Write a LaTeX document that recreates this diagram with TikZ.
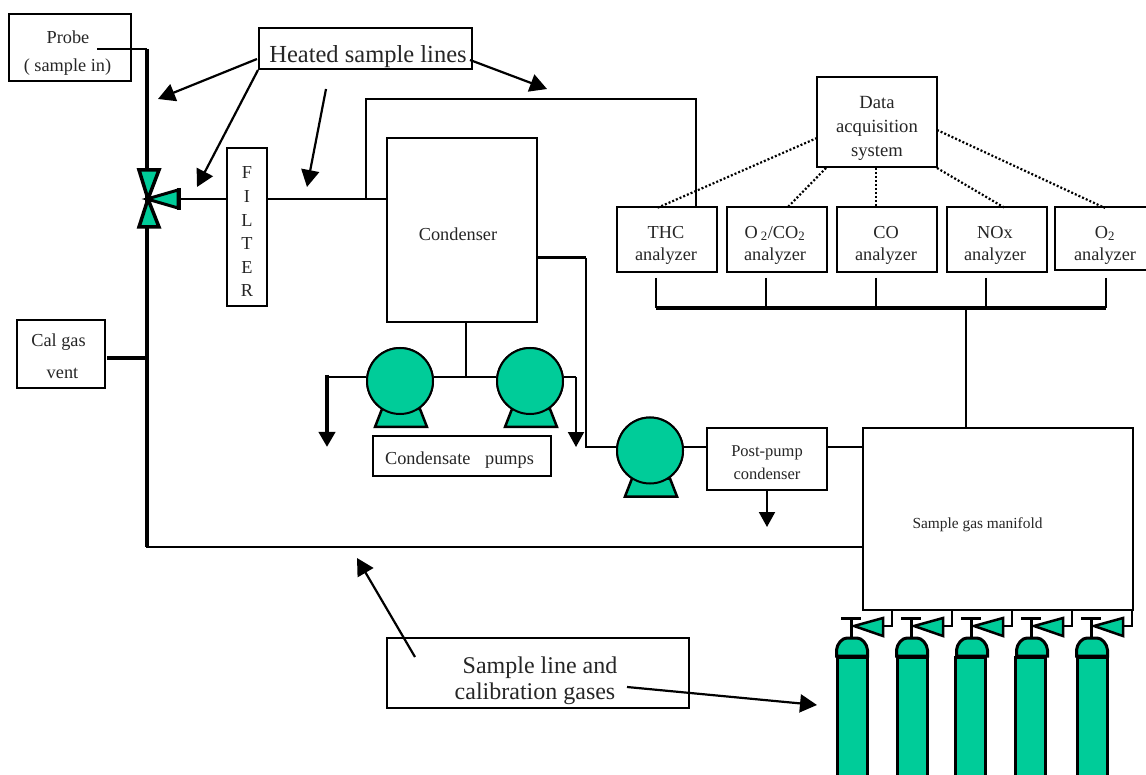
\documentclass[tikz,border=0pt]{standalone}
\usepackage{fontspec}
\setmainfont{Liberation Serif}
\usetikzlibrary{arrows.meta,calc}
\definecolor{gasgreen}{HTML}{00CC99}
\tikzset{
  box/.style={draw=black,line width=2pt,fill=white,inner sep=0pt},
  lab/.style={inner sep=0pt,align=center,text=black!85,font=\fontsize{18.3}{22}\selectfont},
  wire/.style={draw=black,line width=2pt},
  thickwire/.style={draw=black,line width=4pt},
  dotline/.style={draw=black,line width=2.2pt,dash pattern=on 2pt off 2pt},
  callout/.style={draw=black,line width=2.2pt,-{Triangle[length=17pt,width=18pt]}},
  flow/.style={draw=black,line width=2pt,-{Triangle[length=15pt,width=16pt]}},
  pumpball/.style={circle,draw=black,line width=2pt,fill=gasgreen,minimum size=66pt,inner sep=0pt},
  greenpart/.style={draw=black,line width=2.5pt,fill=gasgreen,line join=miter},
}
\newcommand{\pumpfoot}[1]{\path[greenpart] ($(#1.center)+(-25,46)$) -- ($(#1.center)+(-18,28)$) -- ($(#1.center)+(20,28)$) -- ($(#1.center)+(27,46)$) -- cycle;}
\begin{document}
\begin{tikzpicture}[x=1pt,y=-1pt]
\useasboundingbox (0,0) rectangle (1146,775);
\fill[white] (0,0) rectangle (1146,775);

\coordinate (probeend) at (97,49);
\coordinate (topmain) at (147,49);
\coordinate (botmain) at (147,547);
\coordinate (calend) at (147,358);
\coordinate (valveport) at (180,199);
\coordinate (teeup) at (366,199);
\coordinate (topleft) at (366,99);
\coordinate (topright) at (696,99);

% ---- boxes
\node[box,minimum width=122pt,minimum height=67pt] (probe) at (70,47.5) {};
\node[box,minimum width=213pt,minimum height=41pt] (heated) at (365.5,48.5) {};
\node[box,minimum width=40pt,minimum height=158pt] (filter) at (247,227) {};
\node[box,minimum width=150pt,minimum height=184pt] (condenser) at (462,230) {};
\node[box,minimum width=120pt,minimum height=90pt] (daq) at (877,122) {};
\node[box,minimum width=100pt,minimum height=65pt] (thc) at (667,239.5) {};
\node[box,minimum width=100pt,minimum height=65pt] (oco) at (777,239.5) {};
\node[box,minimum width=100pt,minimum height=65pt] (co) at (887,239.5) {};
\node[box,minimum width=100pt,minimum height=65pt] (nox) at (997,239.5) {};
\node[box,minimum width=92pt,minimum height=63pt] (otwo) at (1101,238.5) {};
\node[box,minimum width=88pt,minimum height=68pt] (cal) at (61,354) {};
\node[box,minimum width=178pt,minimum height=40pt] (pumpslabel) at (462,456) {};
\node[box,minimum width=120pt,minimum height=62pt] (postpump) at (767,459) {};
\node[box,minimum width=270pt,minimum height=182pt] (manifold) at (998,519) {};
\node[box,minimum width=302pt,minimum height=70pt] (sampleline) at (538,673) {};

% ---- texts
\node[lab] (probetop) at (68,37) {Probe};
\node[lab] (probebot) at (67.5,67) {( sample in)};
\node[lab,font=\fontsize{24.5}{29}\selectfont] (heatedtext) at (368,57) {Heated sample lines};
\node[lab,font=\fontsize{18.3}{23.6}\selectfont] (filtertext) at (247,232) {F\\I\\L\\T\\E\\R};
\node[lab] (condtext) at (458,234) {Condenser};
\node[lab,font=\fontsize{18.6}{24}\selectfont] (daqtext) at (877,128) {Data\\acquisition\\system};
\node[lab] (thctext) at (666,245) {THC\\analyzer};
\node[lab] (ocotext) at (775,245) {O\,\textsubscript{2}/CO\textsubscript{2}\\analyzer};
\node[lab] (cotext) at (886,245) {CO\\analyzer};
\node[lab] (noxtext) at (995,245) {NOx\\analyzer};
\node[lab] (otwotext) at (1105,245) {O\textsubscript{2}\\analyzer};
\node[lab] (caltop) at (58.5,342) {Cal gas};
\node[lab] (calbot) at (62.5,373) {vent};
\node[lab] (pumpstext) at (459.5,460) {Condensate\hspace{.8em}pumps};
\node[lab,font=\fontsize{16.5}{23}\selectfont] (pptext) at (767,463) {Post-pump\\condenser};
\node[lab,font=\fontsize{15.4}{20}\selectfont] (mantext) at (977.5,525) {Sample gas manifold};
\node[lab,font=\fontsize{24}{26}\selectfont] (sampletop) at (540,667.5) {Sample line and};
\node[lab,font=\fontsize{24}{26}\selectfont] (samplebot) at (535,693.5) {calibration gases};

% ---- main sample path
\draw[wire] (probeend) -- (topmain);
\draw[thickwire] (topmain) -- (botmain);
\draw[wire,line cap=rect] (botmain) -- (botmain -| manifold.west);
\draw[thickwire] (107,358) -- (calend);
\draw[wire] (valveport) -- (valveport -| filter.west);
\draw[wire] (filter.east |- valveport) -- (valveport -| condenser.west);
\draw[wire] (teeup) -- (topleft) -- (topright) -- (topright |- thc.north);

% ---- data lines
\coordinate (d1) at (657,208);
\coordinate (d1s) at (817,138);
\coordinate (d2) at (787,208);
\coordinate (d2s) at (826,168);
\coordinate (d3) at (876,207);
\coordinate (d3s) at (876,168);
\coordinate (d4) at (1005,208);
\coordinate (d4s) at (937,168);
\coordinate (d5) at (1105,208);
\coordinate (d5s) at (937,130);
\draw[dotline] (d1s) -- (d1);
\draw[dotline] (d2s) -- (d2);
\draw[dotline] (d3s) -- (d3);
\draw[dotline] (d4s) -- (d4);
\draw[dotline] (d5s) -- (d5);

% ---- analyzer bus
\coordinate (busl) at (656,308);
\coordinate (busr) at (1106,308);
\draw[draw=black,line width=3.5pt] (busl) -- (busr);
\foreach \x in {656,766,876,986,1106} \draw[wire] (\x,278) -- (\x,308);
\draw[wire] (966,308) -- (966,428);

% ---- pumps
\coordinate (pl) at (327,377);
\coordinate (plh) at (327,447);
\coordinate (pr) at (576,377);
\coordinate (prh) at (576,447);
\coordinate (condtee) at (466,377);
\coordinate (condout) at (586,258);
\coordinate (condturn) at (586,447);
\coordinate (pptee) at (863,447);
\coordinate (ppdrain) at (767,527);
\node[pumpball] (pumpa) at (400,381) {};
\node[pumpball] (pumpb) at (530,381) {};
\node[pumpball] (pumpc) at (650,450.5) {};
\draw[wire] (pumpa.west |- pl) -- (pl);
\draw[draw=black,line width=4pt,-{Triangle[length=15pt,width=16pt]}] (327,375) -- (plh);
\draw[wire] (pumpa.east |- pl) -- (pumpb.west |- pl);
\draw[wire] (condtee |- condenser.south) -- (condtee);
\draw[wire] (pumpb.east |- pr) -- (pr);
\draw[flow] (pr) -- (prh);
\draw[draw=black,line width=3pt] (condenser.east |- condout) -- (condout);
\draw[wire] (condout) -- (condturn) -- (condturn -| pumpc.west);
\draw[wire] (pumpc.east |- condturn) -- (condturn -| postpump.west);
\draw[wire] (postpump.east |- pptee) -- (pptee);
\draw[flow] (postpump.south) -- (ppdrain);
\pumpfoot{pumpa}\pumpfoot{pumpb}\pumpfoot{pumpc}
\node[pumpball] at (pumpa) {};
\node[pumpball] at (pumpb) {};
\node[pumpball] at (pumpc) {};

% ---- three-way valve
\path[draw=black,line width=3.5pt,fill=gasgreen,line join=miter] (139,170) -- (159,170) -- (148,199) -- (159,227) -- (139,227) -- (148,199) -- cycle;
\path[draw=black,line width=3pt,fill=gasgreen] (147,199) -- (178,190) -- (178,208) -- cycle;
\draw[draw=black,line width=4pt] (179,188) -- (179,210);

% ---- cylinders and their valves
\foreach \c/\d in {852/852,912/912,970.5/972,1030.5/1032,1092/1092} {
  \path[draw=black,line width=3pt,fill=gasgreen] (\c-15,775) -- (\c-15,657) -- (\c+15,657) -- (\c+15,775);
  \path[draw=black,line width=3pt,fill=gasgreen] (\d-15.5,656) -- (\d-15.5,650) .. controls (\d-15,644) and (\d-10,638) .. (\d-5,638) -- (\d+5,638) .. controls (\d+10,638) and (\d+15,644) .. (\d+15.5,650) -- (\d+15.5,656) -- cycle;
}
\foreach \t/\m in {851/892,911/952,971/1012,1031/1072,1091/1132} {
  \draw[draw=black,line width=3pt] (\t-10,618) -- (\t+10,618);
  \draw[draw=black,line width=3pt] (\t,618) -- (\t,638);
  \path[greenpart] (\t+3,626) -- (\t+32,618) -- (\t+32,636) -- cycle;
  \draw[wire] (\t+32,626) -- (\m,626) -- (\m,610);
}

% ---- callouts
\coordinate (ha) at (158,99);
\coordinate (hb) at (197,187);
\coordinate (hcs) at (326,89);
\coordinate (hc) at (307,187);
\coordinate (hd) at (547,89);
\coordinate (sa) at (357,558);
\coordinate (sb) at (817,705);
\draw[callout] (257,59) -- (ha);
\draw[callout] (heated.south west) -- (hb);
\draw[callout] (hcs) -- (hc);
\draw[callout] (470,60) -- (hd);
\draw[callout] (415,657) -- (sa);
\draw[callout] (627,687) -- (sb);
\end{tikzpicture}
\end{document}
